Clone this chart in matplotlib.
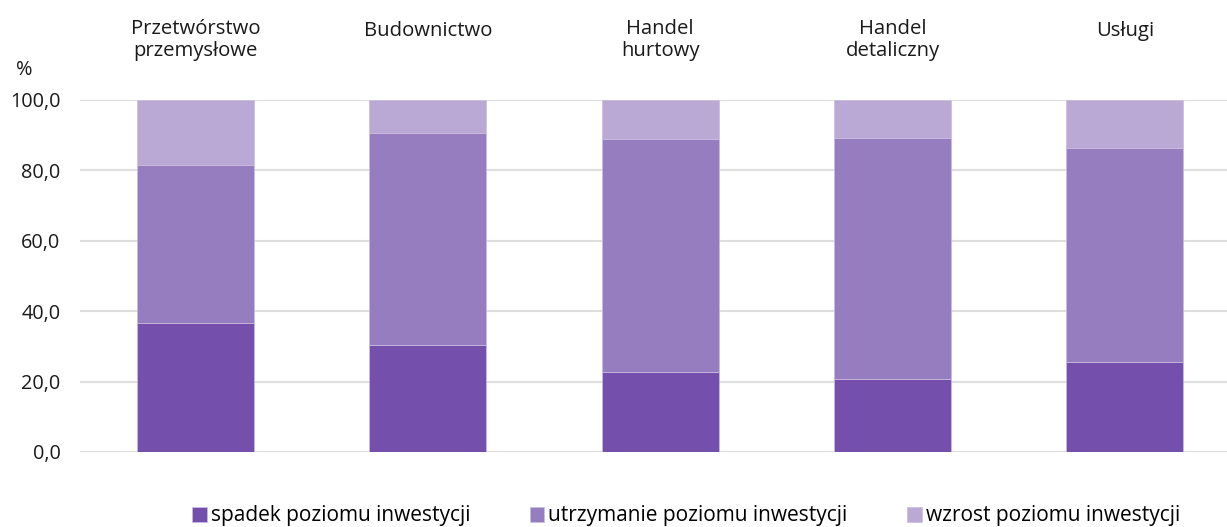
import numpy as np
import matplotlib.pyplot as plt
from matplotlib.transforms import blended_transform_factory

plt.rcParams['font.family'] = ['Open Sans', 'DejaVu Sans']

categories = ["Przetwórstwo\nprzemysłowe", "Budownictwo", "Handel\nhurtowy",
              "Handel\ndetaliczny", "Usługi"]
spadek = [36.6, 30.4, 22.6, 20.8, 25.5]
utrzymanie = [44.9, 60.2, 66.4, 68.5, 60.8]
wzrost = [18.5, 9.4, 11.0, 10.7, 13.7]
series_names = ["spadek poziomu inwestycji", "utrzymanie poziomu inwestycji",
                "wzrost poziomu inwestycji"]
colors = ["#7450AC", "#967DBF", "#BAA8D5"]
yticks = [0, 20, 40, 60, 80, 100]

fig = plt.figure(figsize=(12.27, 5.27), dpi=100)
ax = fig.add_axes([80 / 1227, 75 / 527, 1147 / 1227, 352 / 527])

x = np.arange(len(categories))
bottom = np.zeros(len(categories))
for vals, name, c in zip([spadek, utrzymanie, wzrost], series_names, colors):
    ax.bar(x, vals, width=0.503, bottom=bottom, color=c, label=name,
           edgecolor="#C9BDE0", linewidth=0.5, zorder=3)
    bottom += np.array(vals)

ax.set_xlim(-0.497, 4.44)
ax.set_ylim(0, 100)
ax.set_yticks(yticks)
ax.set_yticklabels([f"{v:.1f}".replace(".", ",") for v in yticks])
ax.set_xticks([])
ax.tick_params(axis="y", length=0, pad=14, labelsize=14.3, labelcolor="#1a1a1a")
ax.grid(axis="y", color="#DEDEDE", linewidth=1.5, zorder=0)
for s in ax.spines.values():
    s.set_visible(False)

# category labels on top
trans = blended_transform_factory(ax.transData, fig.transFigure)
for i, cat in enumerate(categories):
    ypx = 40 if "\n" in cat else 31
    ax.text(i, 1 - ypx / 527, cat, transform=trans, ha="center", va="center",
            fontsize=14.6, color="#1a1a1a", linespacing=1.15)

fig.text(24 / 1227, 1 - 70 / 527, "%", ha="center", va="center",
         fontsize=14.3, color="#1a1a1a")

fig.legend(loc="center", bbox_to_anchor=(686 / 1227, 1 - 516 / 527),
           ncol=3, frameon=False, fontsize=15, handlelength=0.7,
           handleheight=0.7, handletextpad=0.2, columnspacing=2.85,
           borderaxespad=0)

fig.savefig("out.png", dpi=100)
